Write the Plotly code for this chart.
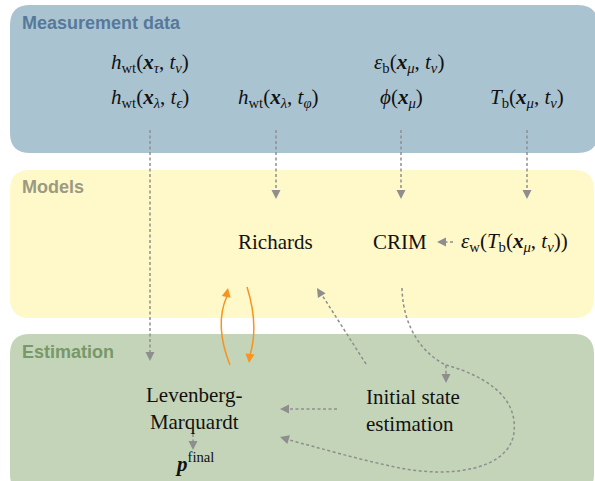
import math
import plotly.graph_objects as go

W, H = 595, 481

# Panels
panel_titles = ["Measurement data", "Models", "Estimation"]
panel_boxes = [(10, 5, 598, 153), (10, 170, 594, 318), (10, 334, 594, 494)]
panel_fills = ["#aac3d1", "#fff8c8", "#c4d4b8"]
panel_title_colors = ["#56799a", "#9b9a82", "#779868"]
panel_title_y = [23, 187, 352]

SERIF = "Liberation Serif, Times New Roman, serif"
SANS = "Liberation Sans, Arial, sans-serif"

def xb(s):
    return f"<b><i>x</i></b><sub><i>{s}</i></sub>"

# Nodes: (text, x, y, xanchor)
nodes = [
    (f"<i>h</i><sub>wt</sub>({xb('τ')}, <i>t</i><sub><i>ν</i></sub>)", 150, 63, "center"),
    (f"<i>h</i><sub>wt</sub>({xb('λ')}, <i>t</i><sub><i>ϵ</i></sub>)", 150, 98, "center"),
    (f"<i>h</i><sub>wt</sub>({xb('λ')}, <i>t</i><sub><i>φ</i></sub>)", 278, 98, "center"),
    (f"<i>ε</i><sub>b</sub>({xb('μ')}, <i>t</i><sub><i>ν</i></sub>)", 409, 63, "center"),
    (f"<i>ϕ</i>({xb('μ')})", 401, 98, "center"),
    (f"<i>T</i><sub>b</sub>({xb('μ')}, <i>t</i><sub><i>ν</i></sub>)", 527, 98, "center"),
    ("Richards", 275, 242, "center"),
    ("CRIM", 400, 242, "center"),
    (f"<i>ε</i><sub>w</sub>(<i>T</i><sub>b</sub>({xb('μ')}, <i>t</i><sub><i>ν</i></sub>))", 459, 242, "left"),
    ("Levenberg-<br>Marquardt", 194, 408, "center"),
    ("Initial state<br>estimation", 364, 410, "left"),
    ("<b><i>p</i></b><sup>final</sup>", 194, 462, "center"),
]

GRAY = "#8e8e8e"
ORANGE = "#f7931e"

# Connectors: (svg path, arrow tip, point before tip, colour, dotted)
connectors = [
    ("M 150 130 L 150 352", (150, 361), (150, 350), GRAY, True),
    ("M 276 130 L 276 190", (276, 199), (276, 189), GRAY, True),
    ("M 401 130 L 401 190", (401, 199), (401, 189), GRAY, True),
    ("M 527 130 L 527 190", (527, 199), (527, 189), GRAY, True),
    ("M 453 242 L 446 242", (437, 242), (447, 242), GRAY, True),
    ("M 193 434 L 193 441", (193, 450), (193, 440), GRAY, True),
    ("M 366 364 L 322 295", (317, 288), (322, 296), GRAY, True),
    ("M 337 409 L 289 409", (280, 409), (290, 409), GRAY, True),
    ("M 402 288 C 403 330, 425 355, 446 365 L 446 374", (446, 383), (446, 373), GRAY, True),
    ("M 446 365 C 482 375, 518 395, 514 432 C 510 470, 450 478, 400 468 "
     "C 360 460, 320 448, 289 440", (280, 437), (290, 440), GRAY, True),
    ("M 230 365 Q 214 325 227 296", (228, 288), (226, 298), ORANGE, False),
    ("M 247 287 Q 259 325 250 355", (249, 363), (250, 353), ORANGE, False),
]

def rounded_rect(x0, y0, x1, y1, r):
    return (f"M {x0+r} {y0} L {x1-r} {y0} Q {x1} {y0} {x1} {y0+r} "
            f"L {x1} {y1-r} Q {x1} {y1} {x1-r} {y1} L {x0+r} {y1} "
            f"Q {x0} {y1} {x0} {y1-r} L {x0} {y0+r} Q {x0} {y0} {x0+r} {y0} Z")

def arrow_head(tip, frm, length=9.0, half=4.5):
    tx, ty = tip
    fx, fy = frm
    dx, dy = tx - fx, ty - fy
    n = math.hypot(dx, dy) or 1.0
    ux, uy = dx / n, dy / n
    bx, by = tx - length * ux, ty - length * uy
    px, py = -uy, ux
    return (f"M {tx:.2f} {ty:.2f} L {bx + half*px:.2f} {by + half*py:.2f} "
            f"L {bx - half*px:.2f} {by - half*py:.2f} Z")

fig = go.Figure()
shapes = []
annotations = []

for title, box, fill, tcol, ty in zip(panel_titles, panel_boxes, panel_fills,
                                       panel_title_colors, panel_title_y):
    shapes.append(dict(type="path", path=rounded_rect(*box, 20), xref="x", yref="y",
                       fillcolor=fill, line=dict(width=0), layer="below"))
    annotations.append(dict(text=f"<b>{title}</b>", x=20, y=ty, xref="x", yref="y",
                            xanchor="left", yanchor="middle", showarrow=False,
                            font=dict(family=SANS, size=18, color=tcol)))

for path, tip, frm, col, dotted in connectors:
    shapes.append(dict(type="path", path=path, xref="x", yref="y",
                       line=dict(color=col, width=1.5,
                                 dash="3px,2.5px" if dotted else "solid")))
    shapes.append(dict(type="path", path=arrow_head(tip, frm), xref="x", yref="y",
                       fillcolor=col, line=dict(width=0)))

for text, x, y, xa in nodes:
    annotations.append(dict(text=text, x=x, y=y, xref="x", yref="y",
                            xanchor=xa, yanchor="middle", showarrow=False,
                            align="center" if xa == "center" else "left",
                            font=dict(family=SERIF, size=21, color="#111111")))

fig.update_layout(
    width=W, height=H, margin=dict(l=0, r=0, t=0, b=0),
    paper_bgcolor="white", plot_bgcolor="white",
    xaxis=dict(range=[0, W], visible=False, fixedrange=True),
    yaxis=dict(range=[H, 0], visible=False, fixedrange=True),
    shapes=shapes, annotations=annotations, showlegend=False,
)
fig.write_html("out.html", config={"displayModeBar": False, "staticPlot": True},
               post_script="document.body.style.margin='0';")
